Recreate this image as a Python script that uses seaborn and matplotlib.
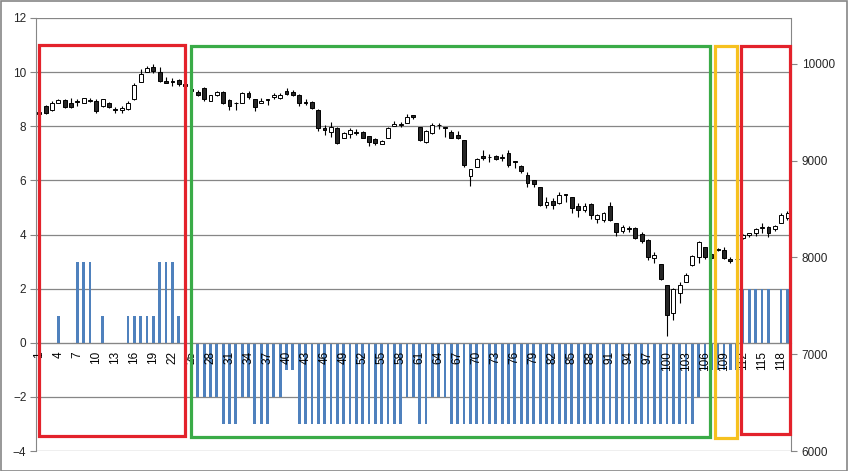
import numpy as np
import pandas as pd
import matplotlib
matplotlib.use("Agg")
import matplotlib.pyplot as plt
import seaborn as sns
from matplotlib.patches import Rectangle

# ---------------- data ----------------
categories = list(range(1, 120))

signal = [0, 0, 0, 1, 0, 0, 3, 3, 3, 0,
          1, 0, 0, 0, 1, 1, 1, 1, 1, 3,
          3, 3, 1, -2, -2, -2, -2, -2, -2, -3,
          -3, -3, -2, -2, -3, -3, -3, -2, -2, -1,
          -1, -3, -3, -3, -3, -3, -3, -3, -3, -3,
          -3, -3, -3, -3, -3, -3, -3, -3, -2, -2,
          -3, -3, -2, -2, -2, -3, -3, -3, -3, -3,
          -3, -3, -3, -3, -3, -3, -3, -3, -3, -3,
          -3, -3, -3, -3, -3, -3, -3, -3, -3, -3,
          -3, -3, -3, -3, -3, -3, -3, -3, -3, -3,
          -3, -3, -3, -3, -2, -1, -1, -1, -1, -1,
          -1, 2, 2, 2, 2, 2, 0, 2, 2]

opens = [9480, 9566, 9525, 9600, 9628, 9593, 9617, 9600, 9614, 9617,
         9566, 9600, 9535, 9525, 9531, 9635, 9817, 9921, 9972, 9914,
         9828, 9828, 9835, 9790, 9738, 9714, 9748, 9621, 9680, 9714,
         9628, 9600, 9600, 9704, 9635, 9593, 9635, 9655, 9645, 9724,
         9714, 9680, 9607, 9611, 9525, 9335, 9301, 9335, 9232, 9277,
         9301, 9301, 9256, 9225, 9173, 9232, 9359, 9366, 9394, 9473,
         9345, 9197, 9283, 9366, 9352, 9301, 9266, 9214, 8842, 8932,
         9049, 9043, 9049, 9032, 9077, 8998, 8946, 8853, 8802, 8726,
         8543, 8588, 8560, 8657, 8622, 8533, 8491, 8553, 8395, 8388,
         8533, 8361, 8278, 8302, 8302, 8243, 8182, 7992, 7933, 7716,
         7424, 7630, 7751, 7920, 8009, 8106, 8040, 8085, 8078, 7982,
         7985, 8200, 8233, 8257, 8302, 8312, 8291, 8360, 8405]

highs = [9530, 9575, 9617, 9635, 9638, 9645, 9635, 9648, 9645, 9635,
         9638, 9605, 9559, 9566, 9617, 9800, 9945, 9980, 10000, 9972,
         9862, 9852, 9842, 9807, 9773, 9731, 9766, 9680, 9724, 9724,
         9635, 9604, 9714, 9721, 9635, 9645, 9636, 9704, 9697, 9748,
         9731, 9690, 9635, 9621, 9531, 9370, 9404, 9345, 9301, 9335,
         9325, 9311, 9256, 9232, 9214, 9352, 9414, 9404, 9483, 9473,
         9352, 9318, 9394, 9394, 9352, 9318, 9311, 9214, 8911, 9025,
         9111, 9067, 9060, 9070, 9112, 8998, 8956, 8888, 8802, 8726,
         8622, 8612, 8681, 8657, 8622, 8567, 8560, 8567, 8450, 8474,
         8578, 8361, 8336, 8326, 8312, 8268, 8189, 8061, 7933, 7716,
         7682, 7751, 7844, 8026, 8171, 8113, 8050, 8095, 8113, 8009,
         8009, 8240, 8257, 8308, 8353, 8326, 8336, 8457, 8484]

lows = [9460, 9480, 9514, 9593, 9542, 9542, 9566, 9598, 9607, 9490,
        9559, 9545, 9490, 9497, 9525, 9628, 9817, 9914, 9904, 9817,
        9800, 9773, 9773, 9755, 9686, 9669, 9621, 9621, 9673, 9586,
        9525, 9525, 9600, 9635, 9518, 9593, 9576, 9635, 9638, 9680,
        9669, 9566, 9576, 9531, 9311, 9266, 9249, 9173, 9232, 9232,
        9266, 9232, 9152, 9163, 9173, 9232, 9359, 9345, 9394, 9428,
        9208, 9187, 9277, 9325, 9249, 9232, 9221, 8932, 8739, 8932,
        9010, 8991, 9008, 9001, 8939, 8922, 8877, 8733, 8726, 8533,
        8509, 8499, 8553, 8578, 8464, 8423, 8474, 8395, 8354, 8371,
        8381, 8223, 8257, 8268, 8189, 8154, 7975, 7940, 7768, 7189,
        7355, 7534, 7751, 7913, 7947, 7982, 7975, 8070, 7982, 7947,
        7964, 8190, 8209, 8222, 8257, 8215, 8277, 8360, 8388]

closes = [9500, 9490, 9593, 9628, 9552, 9552, 9607, 9645, 9628, 9518,
          9635, 9552, 9525, 9545, 9600, 9783, 9897, 9955, 9931, 9828,
          9800, 9817, 9793, 9770, 9724, 9680, 9635, 9680, 9714, 9593,
          9566, 9593, 9704, 9662, 9559, 9621, 9628, 9680, 9680, 9690,
          9680, 9600, 9600, 9542, 9335, 9318, 9352, 9180, 9290, 9318,
          9283, 9239, 9197, 9180, 9208, 9335, 9380, 9380, 9456, 9456,
          9214, 9308, 9370, 9373, 9342, 9239, 9232, 8956, 8911, 9015,
          9030, 9036, 9022, 9043, 8957, 8984, 8898, 8774, 8760, 8543,
          8578, 8543, 8647, 8647, 8509, 8491, 8533, 8440, 8440, 8464,
          8388, 8268, 8319, 8292, 8199, 8175, 8009, 8026, 7775, 7406,
          7672, 7716, 7819, 8016, 8164, 8009, 7990, 8080, 7992, 7968,
          7980, 8230, 8257, 8291, 8319, 8250, 8326, 8439, 8457]

left_ticks = [-4, -2, 0, 2, 4, 6, 8, 10, 12]
right_ticks = [6000, 7000, 8000, 9000, 10000]
x_labels = [str(c) if (c - 1) % 3 == 0 else "" for c in categories]

# highlighted regimes: (first position, last position, low, high, colour)
box_x0 = [-0.04, 23.88, 106.63, 110.7]
box_x1 = [22.94, 105.8, 110.1, 118.4]
box_y0 = [-3.45, -3.48, -3.52, -3.37]
box_y1 = [10.99, 10.97, 10.97, 10.97]
box_colors = ["#e3222b", "#3aab47", "#f6c11f", "#e3222b"]

# ---------------- style ----------------
sns.set_style("white")
plt.rcParams["font.family"] = ["Liberation Sans", "DejaVu Sans"]
GRAY = "#868686"

W, H = 848, 471
fig = plt.figure(figsize=(W / 100, H / 100), dpi=100)
left_px, right_px, top_px, bot_px = 36.1, 790.6, 18, 451
ax = fig.add_axes([left_px / W, 1 - bot_px / H, (right_px - left_px) / W, (bot_px - top_px) / H])

df = pd.DataFrame({"cat": categories, "signal": signal})
sns.barplot(data=df, x="cat", y="signal", color="#4f81bd", saturation=1,
            width=0.44, ax=ax, errorbar=None, linewidth=0, edgecolor="none", zorder=2)
ax.set_xlabel("")
ax.set_ylabel("")
ax.set_xlim(-0.5, len(categories) - 0.5)
ax.set_ylim(left_ticks[0], left_ticks[-1])
ax.set_yticks(left_ticks)
ax.yaxis.grid(True, color=GRAY, lw=0.9)
ax.xaxis.grid(False)
ax.set_axisbelow(True)

for s in ["top", "right"]:
    ax.spines[s].set_visible(False)
ax.spines["left"].set_color(GRAY)
ax.spines["bottom"].set_color(GRAY)
ax.spines["bottom"].set_position(("data", 0))
ax.spines["bottom"].set_zorder(3)

pos = np.arange(len(categories))
ax.set_xticks(pos)
ax.set_xticklabels(x_labels, rotation=90, va="top", ha="center", fontsize=8.5, color="black")
ax.set_xticks(np.arange(-0.5, len(categories), 1), minor=True)
ax.tick_params(axis="x", which="major", length=0, pad=6)
ax.tick_params(axis="x", which="minor", length=4, color=GRAY, width=0.8, direction="out")
ax.tick_params(axis="y", which="major", length=4, color=GRAY, width=0.8, direction="out",
               labelsize=8.5, pad=3, left=True)
ax.xaxis.set_zorder(4)

# ---------------- candlesticks on the secondary axis ----------------
ax2 = ax.twinx()
ax2.set_ylim(6000, 10475)
ax2.set_yticks(right_ticks)
ax2.tick_params(axis="y", length=4, color=GRAY, width=0.8, direction="out", labelsize=8.5, pad=4)
for s in ["top", "left", "bottom"]:
    ax2.spines[s].set_visible(False)
ax2.spines["right"].set_color(GRAY)
ax2.grid(False)

o = np.array(opens, float)
c = np.array(closes, float)
hi = np.array(highs, float)
lo = np.array(lows, float)
up = c >= o
bottoms = np.minimum(o, c)
heights = np.maximum(np.abs(c - o), 2)
ax2.vlines(pos, lo, hi, color="black", lw=0.8, zorder=2)
ax2.bar(pos, heights, bottom=bottoms, width=0.6,
        color=np.where(up, "white", "#262626"), edgecolor="black", linewidth=0.7, zorder=3)

# ---------------- regime boxes ----------------
for x0, x1, y0, y1, col in zip(box_x0, box_x1, box_y0, box_y1, box_colors):
    ax2.add_patch(Rectangle((x0, y0), x1 - x0, y1 - y0, transform=ax.transData,
                            fill=False, edgecolor=col, lw=2.3, zorder=6, clip_on=False))

fig.patches.append(Rectangle((0.001, 0.001), 0.998, 0.997, transform=fig.transFigure,
                             fill=False, edgecolor=GRAY, lw=1.2))

fig.savefig("out.png", dpi=100)
